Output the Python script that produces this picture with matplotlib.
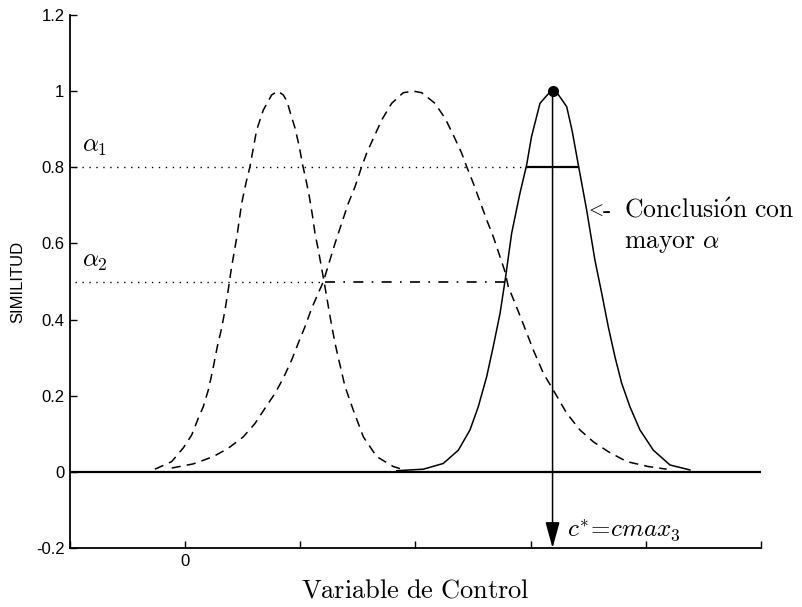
import matplotlib
matplotlib.use("Agg")
import matplotlib.pyplot as plt

# --- curvas de pertenencia (leídas punto a punto) ---
curve1_x = [-0.262, -0.117, -0.016, 0.057, 0.114, 0.157, 0.201, 0.239, 0.279, 0.317,
            0.346, 0.374, 0.395, 0.418, 0.447, 0.470, 0.491, 0.528, 0.563, 0.592,
            0.621, 0.678, 0.720, 0.751, 0.803, 0.852, 0.885, 0.910, 0.954, 0.991,
            1.020, 1.049, 1.078, 1.107, 1.127, 1.156, 1.185, 1.214, 1.258, 1.301,
            1.338, 1.388, 1.460, 1.547, 1.663, 1.807, 1.924]
curve1_y = [0.007, 0.027, 0.063, 0.097, 0.141, 0.171, 0.215, 0.267, 0.329, 0.378,
            0.425, 0.478, 0.522, 0.564, 0.614, 0.662, 0.706, 0.759, 0.802, 0.851,
            0.898, 0.950, 0.973, 0.990, 1.000, 0.990, 0.973, 0.946, 0.903, 0.854,
            0.806, 0.767, 0.723, 0.670, 0.627, 0.583, 0.535, 0.486, 0.408, 0.338,
            0.289, 0.224, 0.162, 0.092, 0.040, 0.014, 0.003]

curve2_x = [-0.117, 0.071, 0.244, 0.374, 0.505, 0.606, 0.693, 0.780, 0.852, 0.925,
            0.982, 1.040, 1.099, 1.142, 1.199, 1.301, 1.359, 1.416, 1.475, 1.533,
            1.576, 1.634, 1.706, 1.793, 1.894, 1.981, 2.054, 2.169, 2.256, 2.328,
            2.401, 2.444, 2.502, 2.560, 2.618, 2.675, 2.734, 2.777, 2.806, 2.864,
            2.922, 3.023, 3.110, 3.196, 3.313, 3.428, 3.544, 3.674, 3.834, 4.021,
            4.181]
curve2_y = [0.010, 0.021, 0.040, 0.062, 0.092, 0.127, 0.167, 0.206, 0.246, 0.294,
            0.338, 0.381, 0.430, 0.460, 0.499, 0.600, 0.653, 0.705, 0.749, 0.802,
            0.837, 0.876, 0.924, 0.968, 0.996, 1.000, 0.996, 0.968, 0.929, 0.885,
            0.837, 0.802, 0.758, 0.710, 0.662, 0.618, 0.565, 0.526, 0.486, 0.443,
            0.399, 0.320, 0.259, 0.215, 0.154, 0.110, 0.079, 0.053, 0.027, 0.014,
            0.007]

curve3_x = [1.837, 2.068, 2.241, 2.372, 2.473, 2.545, 2.618, 2.675, 2.734, 2.781,
            2.835, 2.907, 2.965, 3.007, 3.081, 3.130, 3.160, 3.196, 3.230, 3.270,
            3.313, 3.360, 3.414, 3.486, 3.558, 3.617, 3.674, 3.732, 3.790, 3.862,
            3.949, 4.065, 4.210, 4.383]
curve3_y = [0.003, 0.007, 0.022, 0.057, 0.110, 0.171, 0.250, 0.329, 0.416, 0.509,
            0.627, 0.732, 0.806, 0.880, 0.968, 0.985, 0.995, 1.000, 0.995, 0.978,
            0.959, 0.896, 0.806, 0.688, 0.556, 0.469, 0.381, 0.302, 0.233, 0.171,
            0.110, 0.057, 0.018, 0.005]

# niveles de corte y puntos de interés
alpha1 = 0.8
alpha2 = 0.5
alpha1_cut = [2.965, 3.414]   # corte de la curva 3 a alpha1
cross_12 = 1.21               # cruce curvas 1 y 2 en alpha2
cross_23 = 2.785              # cruce curvas 2 y 3 en alpha2
cmax3 = 3.19

x_ticks = [-1, 0, 1, 2, 3, 4, 5]
x_ticklabels = ['', '0', '', '', '', '', '']
y_ticks = [-0.2, 0, 0.2, 0.4, 0.6, 0.8, 1, 1.2]
y_ticklabels = ['-0.2', '0', '0.2', '0.4', '0.6', '0.8', '1', '1.2']

plt.rcParams['font.family'] = ['Liberation Sans', 'DejaVu Sans']
plt.rcParams['mathtext.fontset'] = 'cm'

fig = plt.figure(figsize=(8.03, 6.07), dpi=100)
ax = fig.add_axes([70 / 803, 59 / 607, 691 / 803, 533 / 607])

dashed = (0, (6, 4))
dotted = (0, (1, 4))
dashdot = (0, (6, 5, 1, 5))

ax.axhline(0, color='k', lw=1.6)

ax.plot(curve1_x, curve1_y, color='k', lw=1.1, ls=dashed)
ax.plot(curve2_x, curve2_y, color='k', lw=1.1, ls=dashed)
ax.plot(curve3_x, curve3_y, color='k', lw=1.1, ls='-')

# niveles alpha
ax.plot([-0.96, alpha1_cut[0]], [alpha1, alpha1], color='k', lw=1.0, ls=dotted)
ax.plot(alpha1_cut, [alpha1, alpha1], color='k', lw=1.6)
ax.plot([-0.96, cross_12], [alpha2, alpha2], color='k', lw=1.0, ls=dotted)
ax.plot([cross_12, cross_23], [alpha2, alpha2], color='k', lw=1.2, ls=dashdot)

# conclusión: flecha desde el máximo de la curva 3
ax.annotate('', xy=(cmax3, -0.2), xytext=(cmax3, 1.0),
            arrowprops=dict(arrowstyle='-|>,head_length=0.8,head_width=0.22',
                            mutation_scale=20, color='k', lw=1.1,
                            shrinkA=0, shrinkB=0))
ax.plot(cmax3, 1.0, 'ko', ms=7)

ax.text(-0.896, 0.84, r'$\alpha_1$', fontsize=18, va='baseline')
ax.text(-0.896, 0.539, r'$\alpha_2$', fontsize=18, va='baseline')
ax.text(3.47, 0.683, r'$<$', fontsize=14, va='center', ha='left')
ax.text(3.63, 0.667, '-', fontsize=18, va='baseline', family='cmr10')
ax.text(3.81, 0.667, r'$\mathrm{Conclusi\acute{o}n\ con}$', fontsize=18.5, va='baseline')
ax.text(3.81, 0.588, r'$\mathrm{mayor}\ \alpha$', fontsize=18.5, va='baseline')
ax.text(3.315, -0.171, r'$c^{*}\!=\!cmax_3$', fontsize=18, va='baseline')

ax.text(0.5, -0.092, r'$\mathrm{Variable\ de\ Control}$', transform=ax.transAxes,
        ha='center', va='baseline', fontsize=19)

ax.set_xlim(-1, 5)
ax.set_ylim(-0.2, 1.2)
ax.set_xticks(x_ticks)
ax.set_xticklabels(x_ticklabels)
ax.set_yticks(y_ticks)
ax.set_yticklabels(y_ticklabels)
ax.tick_params(direction='in', length=5, width=1, labelsize=12, pad=4)

ax.spines['top'].set_visible(False)
ax.spines['right'].set_visible(False)
for s in ('left', 'bottom'):
    ax.spines[s].set_linewidth(1.3)

ax.set_ylabel('SIMILITUD', fontsize=12)
ax.yaxis.set_label_coords(-0.065, 0.5)

fig.savefig('out.png', dpi=100)
